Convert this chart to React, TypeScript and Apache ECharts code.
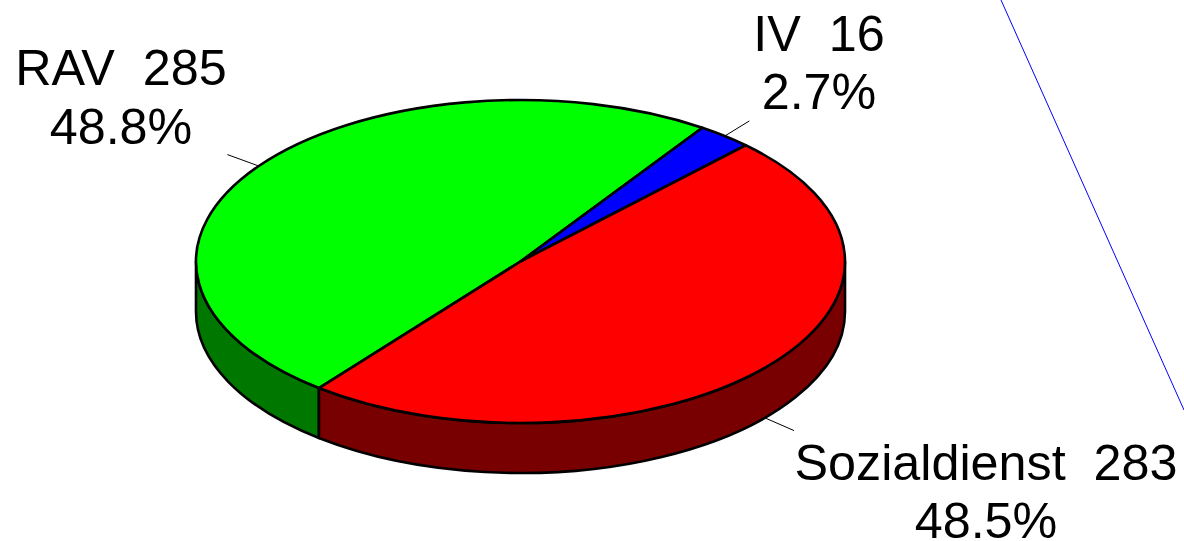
import React, { useEffect, useRef } from "react";
import * as echarts from "echarts";

const sliceNames = ["RAV", "IV", "Sozialdienst"];
const sliceValues = [285, 16, 283];
const topColors = ["#00ff00", "#0000ff", "#ff0000"];
const sideColors = ["#007800", "#000078", "#780000"];

const CX = 520.5, CY = 261.5, RX = 324.5, RY = 161.5, DEPTH = 50;
const START_DEG = 128.4;
const LEADER = 1.12;
const FONT_SIZE = 50.3;
const LINE_WIDTH = 2.6;
const FONT = "'Liberation Sans', Arial, Helvetica, sans-serif";
const labelAnchors = [
  { x: 121, y1: 67, y2: 126 },
  { x: 819, y1: 33, y2: 91 },
  { x: 986, y1: 462, y2: 520 },
];

const total = sliceValues.reduce((a, b) => a + b, 0);
const rad = (d: number) => (d * Math.PI) / 180;
const rim = (deg: number, dy = 0, k = 1) => [
  CX + k * RX * Math.cos(rad(deg)),
  CY + dy + k * RY * Math.sin(rad(deg)),
];
const startOf = (i: number) =>
  START_DEG + (sliceValues.slice(0, i).reduce((a, b) => a + b, 0) / total) * 360;

function arc(to: number[], from: number, end: number, sweep: number) {
  const large = Math.abs(end - from) > 180 ? 1 : 0;
  return `A${RX} ${RY} 0 ${large} ${sweep} ${to[0]} ${to[1]}`;
}

function visibleWall(a0: number, a1: number): [number, number] | null {
  for (const k of [-360, 0, 360]) {
    const lo = Math.max(a0 + k, 0);
    const hi = Math.min(a1 + k, 180);
    if (hi > lo) return [lo, hi];
  }
  return null;
}

function renderItem(params: any, api: any) {
  const i = params.dataIndex;
  const value = api.value(1);
  const a0 = startOf(i);
  const a1 = a0 + (value / total) * 360;
  const mid = (a0 + a1) / 2;
  const children: any[] = [];

  const wall = visibleWall(a0, a1);
  if (wall) {
    const p0 = rim(wall[0]);
    const p1 = rim(wall[1]);
    const q1 = rim(wall[1], DEPTH);
    const q0 = rim(wall[0], DEPTH);
    children.push({
      type: "path",
      shape: {
        pathData: `M${p0[0]} ${p0[1]}${arc(p1, wall[0], wall[1], 1)}L${q1[0]} ${q1[1]}${arc(q0, wall[1], wall[0], 0)}Z`,
      },
      style: { fill: sideColors[i], stroke: "#000", lineWidth: LINE_WIDTH, lineJoin: "round" },
    });
  }

  const s = rim(a0);
  const e = rim(a1);
  children.push({
    type: "path",
    shape: {
      pathData: `M${CX} ${CY}L${s[0]} ${s[1]}${arc(e, a0, a1, 1)}Z`,
    },
    style: { fill: topColors[i], stroke: "#000", lineWidth: LINE_WIDTH, lineJoin: "round" },
  });

  const norm = ((mid % 360) + 360) % 360;
  const dy = norm > 0 && norm < 180 ? DEPTH : 0;
  const l0 = rim(mid, dy);
  const l1 = rim(mid, dy, LEADER);
  children.push({
    type: "line",
    shape: { x1: l0[0], y1: l0[1], x2: l1[0], y2: l1[1] },
    style: { stroke: "#000", lineWidth: 1 },
  });

  const anchor = labelAnchors[i];
  const textStyle = {
    fill: "#000",
    font: `${FONT_SIZE}px ${FONT}`,
    lineHeight: 40,
    align: "center",
    verticalAlign: "middle",
  };
  children.push({
    type: "text",
    x: anchor.x,
    y: anchor.y1,
    style: { ...textStyle, text: `${sliceNames[i]}\u00a0\u00a0${value}` },
  });
  children.push({
    type: "text",
    x: anchor.x,
    y: anchor.y2,
    style: { ...textStyle, text: `${((value / total) * 100).toFixed(1)}%` },
  });

  return { type: "group", children };
}

export default function App() {
  const ref = useRef<HTMLDivElement>(null);
  useEffect(() => {
    const chart = echarts.init(ref.current!, null, { renderer: "svg" });
    chart.setOption({
      animation: false,
      backgroundColor: "#ffffff",
      graphic: [
        {
          type: "line",
          shape: { x1: 1001, y1: 0, x2: 1184, y2: 410 },
          style: { stroke: "#0000ff", lineWidth: 1 },
          silent: true,
        },
      ],
      series: [
        {
          type: "custom",
          coordinateSystem: "none",
          silent: true,
          clip: false,
          renderItem,
          data: sliceValues.map((v, i) => [i, v]),
        },
      ],
    });
    return () => chart.dispose();
  }, []);
  return (
    <div
      ref={ref}
      style={{ position: "fixed", left: 0, top: 0, width: 1184, height: 541, overflow: "hidden" }}
    />
  );
}
